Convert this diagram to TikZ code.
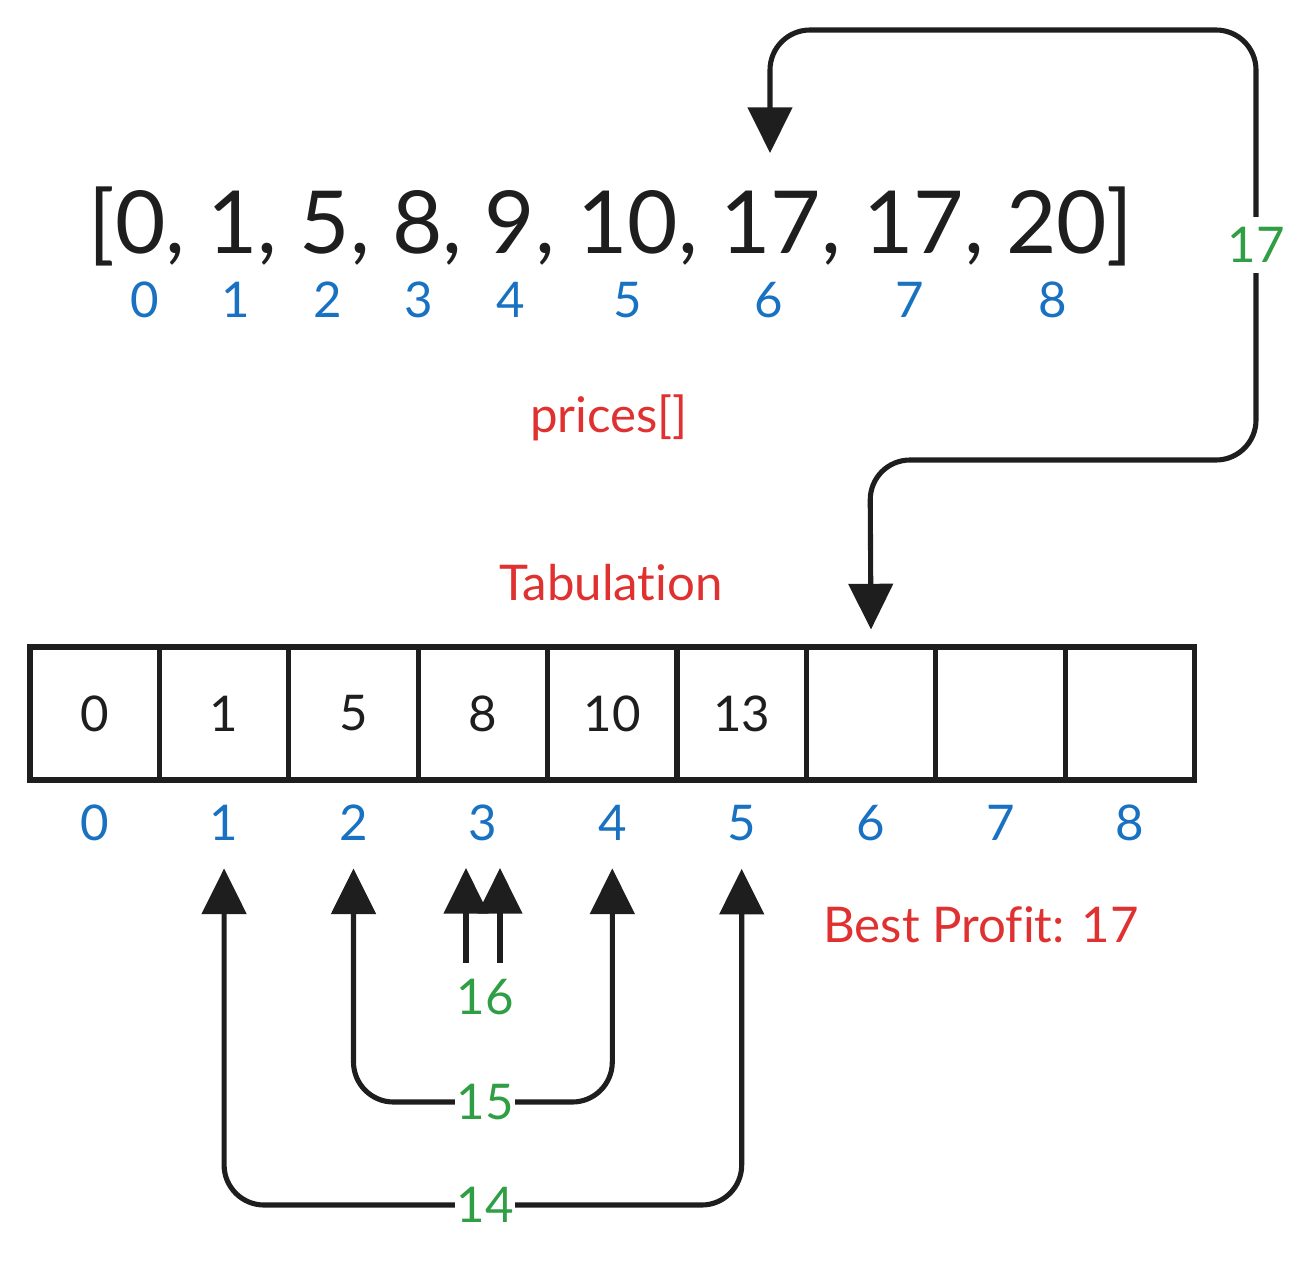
\documentclass[tikz,border=0pt]{standalone}
\usepackage{fontspec}
\setmainfont[Ligatures=CommonOff]{Lato}
\usetikzlibrary{arrows.meta}
\definecolor{ink}{HTML}{1E1E1E}
\definecolor{idxblue}{HTML}{1971C2}
\definecolor{redtxt}{HTML}{E03131}
\definecolor{grn}{HTML}{2F9E44}
\tikzset{
  cell/.style={draw=ink, line width=2.9pt, minimum width=2.588cm, minimum height=2.66cm, inner sep=0pt, text=ink, font=\fontsize{28}{32}\selectfont},
  idx/.style={text=idxblue, font=\fontsize{28}{32}\selectfont, inner sep=0pt, anchor=base},
  note/.style={text=redtxt, font=\fontsize{28}{32}\selectfont, anchor=base},
  cost/.style={text=grn, fill=white, font=\fontsize{28}{32}\selectfont, inner xsep=1pt, inner ysep=6pt},
  arr/.style={draw=ink, line width=2.9pt, rounded corners=0.8cm, {Triangle[length=26pt,width=25pt]}-{Triangle[length=26pt,width=25pt]}},
}
\begin{document}
\begin{tikzpicture}[x=0.02cm,y=-0.02cm]
      \useasboundingbox (0,0) rectangle (1315,1265);
      % prices array
      \node[anchor=base, text=ink, font=\fontsize{49.5}{58}\selectfont] (prices) at (611,253) {[0, 1, 5, 8, 9, 10, 17, 17, 20]};
      \foreach \x [count=\i from 0] in {145,236,328,419,511,628,769,910,1053}
        \node[idx] (p\i) at (\x,317) {\i};
      \node[note] (pname) at (609,432) {prices[]};
      % tabulation
      \node[note] (tname) at (611,600) {Tabulation};
      \foreach \v [count=\i from 0] in {0,1,5,8,10,13,{},{},{}}
        \node[cell] (c\i) at (30+129.4*\i+64.7,713.5) {\v};
      \foreach \i in {0,...,8}
        \node[idx] (i\i) at (c\i.south |- 0,840) {\i};
      \node[note] (best) at (981,942) {Best Profit: 17};
      % arrows
      \coordinate (t6) at (770,153);
      \coordinate (m17) at (1256,245);
      \coordinate (m16) at (485,997);
      \coordinate (m15) at (485,1102);
      \coordinate (m14) at (485,1205);
      \draw[arr, shorten >=0.3cm] (t6) -- (770,30) -- (1256,30) -- (m17) -- (1256,460) -- (870,460) -- (c6.north);
      \draw[arr, sharp corners] (466,868) -- (466,1000) -- (500,1000) -- (500,868);
      \draw[arr, shorten <=0.56cm, shorten >=0.56cm] (i2.south) -- (i2.south |- m15) -- (i4.south |- m15) -- (i4.south);
      \draw[arr, shorten <=0.56cm, shorten >=0.56cm] (i1.south) -- (i1.south |- m14) -- (i5.south |- m14) -- (i5.south);
      \node[cost] (l17) at (m17) {17};
      \node[cost, inner ysep=9pt] (l16) at (m16) {16};
      \node[cost] (l15) at (m15) {15};
      \node[cost] (l14) at (m14) {14};
    \end{tikzpicture}
\end{document}
